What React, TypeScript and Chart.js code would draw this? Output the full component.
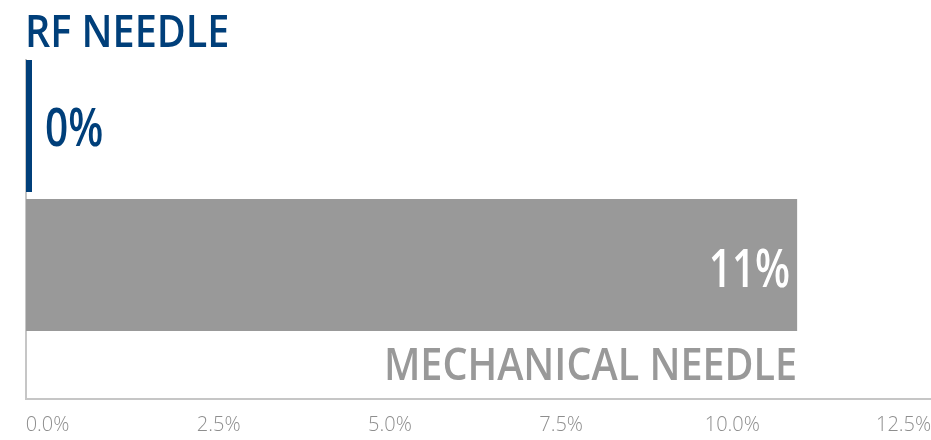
import React, { useEffect, useRef } from 'react';
import { Chart, registerables } from 'chart.js';

Chart.register(...registerables);

const categories = ['RF NEEDLE', 'MECHANICAL NEEDLE'];
const values = [0, 11.26];
const valueLabels = ['0%', '11%'];
const barColors = ['#003f7a', '#999999'];
const categoryColors = ['#003f7a', '#999999'];
const xTickValues = [0, 2.5, 5, 7.5, 10, 12.5];

const LABEL_FONT = '"Open Sans", sans-serif';
const CONDENSE = 0.86;
const VALUE_CONDENSE = 0.78;

function drawCondensed(ctx: CanvasRenderingContext2D, text: string, x: number, y: number, sx: number, align: CanvasTextAlign) {
  ctx.save();
  ctx.translate(x, y);
  ctx.scale(sx, 1);
  ctx.textAlign = align;
  ctx.textBaseline = 'alphabetic';
  ctx.fillText(text, 0, 0);
  ctx.restore();
}

const barLabelPlugin = {
  id: 'barLabels',
  afterDatasetsDraw(chart: any) {
    const ctx: CanvasRenderingContext2D = chart.ctx;
    const meta = chart.getDatasetMeta(0);
    const area = chart.chartArea;
    meta.data.forEach((bar: any, i: number) => {
      const { x, y, base, height } = bar.getProps(['x', 'y', 'base', 'height'], true);
      const top = y - height / 2;
      const bottom = y + height / 2;
      const valueText = valueLabels[i];
      ctx.save();
      ctx.font = `600 52px ${LABEL_FONT}`;
      const w = ctx.measureText(valueText).width * VALUE_CONDENSE;
      if (Math.abs(x - base) > w + 20) {
        ctx.fillStyle = '#ffffff';
        drawCondensed(ctx, valueText, x - 7, y + 22, VALUE_CONDENSE, 'right');
      } else {
        ctx.fillStyle = barColors[i];
        drawCondensed(ctx, valueText, x + 13, y + 20, VALUE_CONDENSE, 'left');
      }
      ctx.font = `600 46px ${LABEL_FONT}`;
      ctx.fillStyle = categoryColors[i];
      if (i === 0) {
        drawCondensed(ctx, categories[i], area.left - 1, top - 13, CONDENSE, 'left');
      } else {
        drawCondensed(ctx, categories[i], x, bottom + 49, CONDENSE, 'right');
      }
      ctx.restore();
    });
  },
};

export default function App() {
  const canvasRef = useRef<HTMLCanvasElement | null>(null);

  useEffect(() => {
    const canvas = canvasRef.current;
    if (!canvas) return;
    const chart = new Chart(canvas, {
      type: 'bar',
      data: {
        datasets: [
          {
            data: values.map((v, i) => ({ x: v, y: i })) as any,
            backgroundColor: barColors,
            borderWidth: 0,
            minBarLength: 6,
            barPercentage: 0.95,
            categoryPercentage: 1,
          },
        ],
      },
      options: {
        indexAxis: 'y',
        animation: false,
        responsive: false,
        layout: { padding: { left: 26, right: 1, top: 60, bottom: -11 } },
        plugins: {
          legend: { display: false },
          tooltip: { enabled: false },
        },
        scales: {
          x: {
            type: 'linear',
            min: 0,
            max: 13.2,
            grid: { display: false, drawTicks: false },
            border: { display: true, color: '#c6c6c6', width: 2 },
            ticks: {
              padding: 14,
              labelOffset: 21.5,
              maxRotation: 0,
              color: '#8e8e8e',
              font: { family: '"Open Sans", sans-serif', size: 20, weight: '300' as any },
              callback: (v: any) => Number(v).toFixed(1) + '%',
            },
            afterBuildTicks: (s: any) => {
              s.ticks = xTickValues.map((v) => ({ value: v }));
            },
            afterFit: (s: any) => {
              s.paddingLeft = 0;
              s.paddingRight = 0;
            },
          },
          y: {
            type: 'linear',
            reverse: true,
            offset: false,
            min: -0.475,
            max: 1.964,
            grid: { display: false, drawTicks: false },
            border: { display: true, color: '#c6c6c6', width: 2 },
            ticks: { display: false },
            afterBuildTicks: (s: any) => {
              s.ticks = categories.map((_, i) => ({ value: i }));
            },
          },
        },
      } as any,
      plugins: [barLabelPlugin],
    });
    return () => chart.destroy();
  }, []);

  return (
    <div style={{ position: 'absolute', left: 0, top: 0, width: 931, height: 440 }}>
      <canvas ref={canvasRef} width={931} height={440} />
    </div>
  );
}
